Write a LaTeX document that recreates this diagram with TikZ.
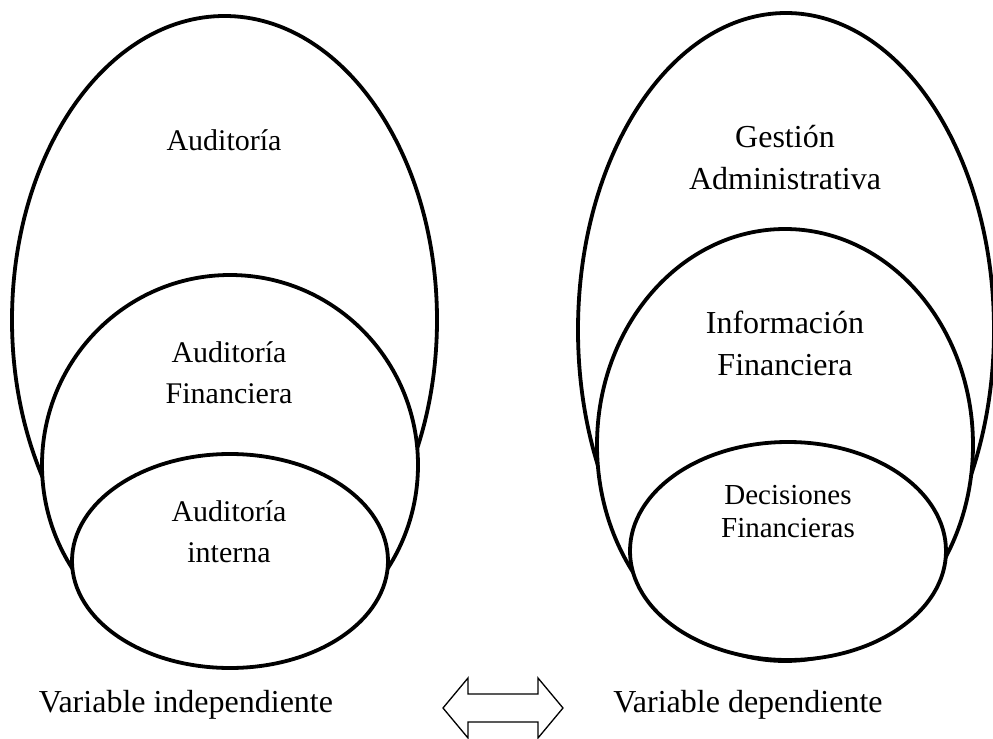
\documentclass[tikz,border=0pt]{standalone}
\usepackage{fontspec}
\setmainfont{Liberation Serif}
\usetikzlibrary{shapes.geometric}

\begin{document}
\begin{tikzpicture}[x=0.5pt,y=-0.5pt,
    set/.style={draw, ellipse, line width=1.9pt, fill=white, inner sep=0pt, outer sep=0pt},
    txt/.style={align=center, font=\fontsize{15}{20.5}\selectfont},
    lbl/.style={font=\fontsize{16}{19}\selectfont}]

    \useasboundingbox (0,0) rectangle (993,739);

    % variable independiente
    \node[set, minimum width=212.5pt, minimum height=304pt] (aud) at (224.5,320) {};
    \node[set, minimum width=188pt, minimum height=190pt] (audfin) at (230,465) {};
    \node[set, minimum width=158pt, minimum height=107pt] (audint) at (230,561) {};

    \node[txt] (taud) at (224,140) {Auditoría};
    \node[txt] (taudfin) at (229,373) {Auditoría\\Financiera};
    \node[txt] (taudint) at (229,532) {Auditoría\\interna};

    % variable dependiente
    \node[set, minimum width=208pt, minimum height=317pt] (gest) at (786,330) {};
    \node[set, minimum width=188pt, minimum height=216pt] (info) at (785,445) {};
    \node[set, minimum width=158pt, minimum height=109pt] (dec) at (788,551) {};

    \node[txt, font=\fontsize{16}{21}\selectfont] (tgest) at (785,158) {Gestión\\Administrativa};
    \node[txt, font=\fontsize{16}{21}\selectfont] (tinfo) at (785,343) {Información\\Financiera};
    \node[txt, font=\fontsize{14.5}{16.5}\selectfont] (tdec) at (788,512) {Decisiones\\Financieras};

    \node[lbl] (vind) at (186,705) {Variable independiente};
    \node[lbl] (vdep) at (748,705) {Variable dependiente};

    \draw[line width=0.65pt] (443,708) -- (468,678) -- (468,694) -- (538,694) -- (538,678)
        -- (563,708) -- (538,738) -- (538,722) -- (468,722) -- (468,738) -- cycle;

\end{tikzpicture}
\end{document}
